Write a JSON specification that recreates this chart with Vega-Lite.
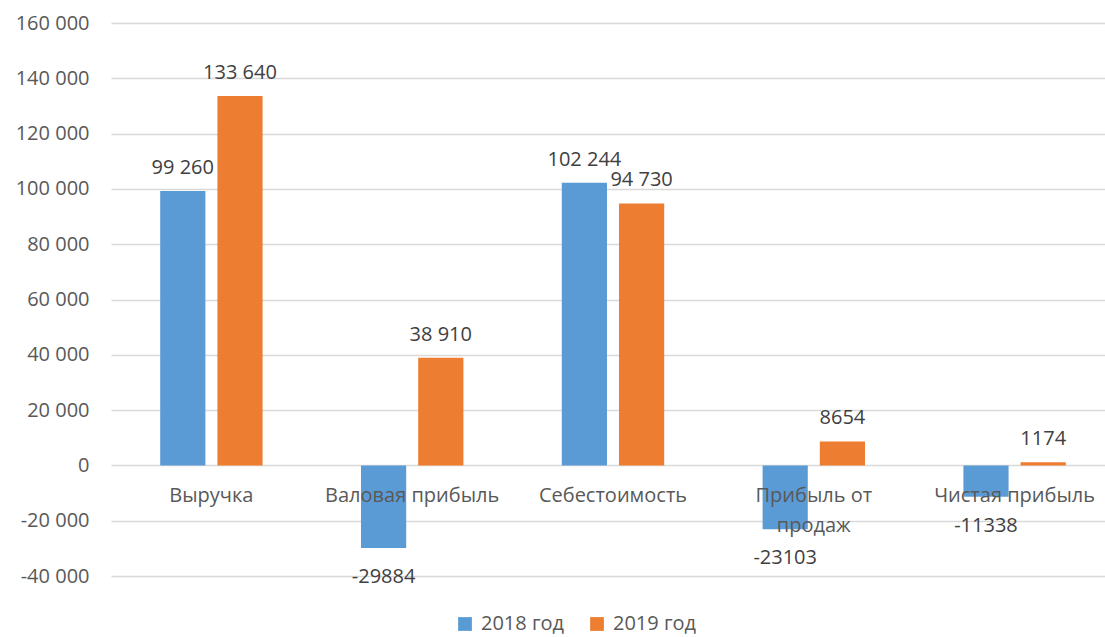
{
  "$schema": "https://vega.github.io/schema/vega-lite/v6.json",
  "autosize": {"type": "none"},
  "padding": {"left": 111, "top": 23, "right": 0, "bottom": 61},
  "width": 994,
  "height": 553,
  "background": "white",
  "datasets": {
    "vals": [
      {"cat": "Выручка", "year": "2018 год", "value": 99260, "label": "99 260"},
      {"cat": "Выручка", "year": "2019 год", "value": 133640, "label": "133 640"},
      {"cat": "Валовая прибыль", "year": "2018 год", "value": -29884, "label": "-29884"},
      {"cat": "Валовая прибыль", "year": "2019 год", "value": 38910, "label": "38 910"},
      {"cat": "Себестоимость", "year": "2018 год", "value": 102244, "label": "102 244"},
      {"cat": "Себестоимость", "year": "2019 год", "value": 94730, "label": "94 730"},
      {"cat": "Прибыль от продаж", "year": "2018 год", "value": -23103, "label": "-23103"},
      {"cat": "Прибыль от продаж", "year": "2019 год", "value": 8654, "label": "8654"},
      {"cat": "Чистая прибыль", "year": "2018 год", "value": -11338, "label": "-11338"},
      {"cat": "Чистая прибыль", "year": "2019 год", "value": 1174, "label": "1174"}
    ],
    "cats": [
      {"cat": "Выручка", "name": "Выручка"},
      {"cat": "Валовая прибыль", "name": "Валовая прибыль"},
      {"cat": "Себестоимость", "name": "Себестоимость"},
      {"cat": "Прибыль от продаж", "name": "Прибыль от\nпродаж"},
      {"cat": "Чистая прибыль", "name": "Чистая прибыль"}
    ]
  },
  "encoding": {
    "x": {
      "field": "cat",
      "type": "nominal",
      "sort": null,
      "axis": null,
      "scale": {
        "domain": ["Выручка", "Валовая прибыль", "Себестоимость", "Прибыль от продаж", "Чистая прибыль"],
        "range": [0, 1004],
        "paddingInner": 0.49,
        "paddingOuter": 0.245
      }
    }
  },
  "layer": [
    {
      "data": {"name": "vals"},
      "mark": {"type": "bar"},
      "encoding": {
        "y": {
          "field": "value",
          "type": "quantitative",
          "scale": {"domain": [-40000, 160000], "nice": false},
          "axis": {
            "title": null,
            "values": [-40000, -20000, 0, 20000, 40000, 60000, 80000, 100000, 120000, 140000, 160000],
            "format": ",d",
            "domain": false,
            "ticks": false,
            "labelPadding": 22,
            "gridColor": "#D9D9D9",
            "gridWidth": 1.3
          }
        },
        "xOffset": {"field": "year", "type": "nominal", "scale": {"paddingInner": 0.21, "paddingOuter": 0}},
        "color": {
          "field": "year",
          "type": "nominal",
          "scale": {"domain": ["2018 год", "2019 год"], "range": ["#5B9BD5", "#ED7D31"]},
          "legend": {
            "title": null,
            "orient": "none",
            "direction": "horizontal",
            "legendX": 344,
            "legendY": 591,
            "symbolType": "square",
            "symbolSize": 190,
            "symbolOpacity": 1,
            "labelFontSize": 20,
            "labelColor": "#595959",
            "columnPadding": 22,
            "labelOffset": 6
          }
        }
      }
    },
    {
      "data": {"name": "vals"},
      "transform": [{"filter": "datum.value >= 0"}],
      "mark": {"type": "text", "baseline": "alphabetic", "dy": -17, "fontSize": 20, "color": "#404040"},
      "encoding": {
        "y": {"field": "value", "type": "quantitative"},
        "xOffset": {"field": "year", "type": "nominal"},
        "text": {"field": "label"}
      }
    },
    {
      "data": {"name": "vals"},
      "transform": [{"filter": "datum.value < 0"}],
      "mark": {"type": "text", "baseline": "alphabetic", "dy": 35, "fontSize": 20, "color": "#404040"},
      "encoding": {
        "y": {"field": "value", "type": "quantitative"},
        "xOffset": {"field": "year", "type": "nominal"},
        "text": {"field": "label"}
      }
    },
    {
      "data": {"name": "cats"},
      "mark": {"type": "text", "baseline": "alphabetic", "dy": 37, "fontSize": 20, "color": "#595959", "lineBreak": "\n", "lineHeight": 30},
      "encoding": {
        "y": {"datum": 0, "type": "quantitative"},
        "text": {"field": "name"}
      }
    }
  ],
  "config": {
    "font": "Open Sans",
    "view": {"stroke": null},
    "axis": {"labelColor": "#595959", "labelFontSize": 20, "labelFont": "Open Sans"},
    "legend": {"labelFont": "Open Sans"},
    "locale": {
      "number": {"decimal": ",", "thousands": " ", "grouping": [3], "currency": ["", ""], "minus": "-"}
    }
  }
}
